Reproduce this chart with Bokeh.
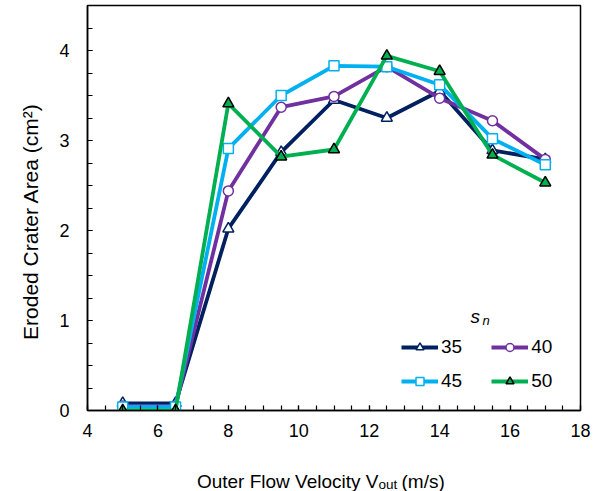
import math
from bokeh.plotting import figure
from bokeh.models import FixedTicker, Label, Legend, LegendItem, Range1d
from bokeh.layouts import row, column
from bokeh.embed import file_html
from bokeh.resources import INLINE

# ---- data ----
velocity = [5, 6.5, 8, 9.5, 11, 12.5, 14, 15.5, 17]
sn_35 = [0.08, 0.08, 2.02, 2.87, 3.45, 3.25, 3.55, 2.89, 2.79]
sn_40 = [0.05, 0.05, 2.44, 3.37, 3.49, 3.82, 3.47, 3.22, 2.79]
sn_45 = [0.04, 0.04, 2.91, 3.50, 3.83, 3.82, 3.62, 3.02, 2.73]
sn_50 = [0.00, 0.00, 3.41, 2.82, 2.90, 3.94, 3.77, 2.84, 2.53]
series_names = ["35", "40", "45", "50"]
x_ticks = [4, 6, 8, 10, 12, 14, 16, 18]
y_ticks = [0, 1, 2, 3, 4]

FONT = "Liberation Sans"
TXT = "#000000"

LEFT_W = 45
TOTAL_W, TOTAL_H = 593, 491
BOTTOM_H = 30
MAIN_W = TOTAL_W - LEFT_W
MAIN_H = TOTAL_H - BOTTOM_H

p = figure(width=MAIN_W, height=MAIN_H,
           x_range=Range1d(4, 18), y_range=Range1d(0, 4.5),
           output_backend="svg", toolbar_location=None,
           min_border_left=42, min_border_right=MAIN_W - 42 - 493,
           min_border_top=5, min_border_bottom=MAIN_H - 5 - 405)
p.xgrid.visible = False
p.ygrid.visible = False
p.outline_line_color = "black"
p.outline_line_width = 1.5
p.background_fill_color = "white"
p.border_fill_color = "white"

p.xaxis.ticker = FixedTicker(
    ticks=x_ticks,
    minor_ticks=[x_ticks[0] + 0.5 * i for i in range(int((x_ticks[-1] - x_ticks[0]) / 0.5) + 1)])
p.yaxis.ticker = FixedTicker(ticks=y_ticks, minor_ticks=[0.25 * i for i in range(18)])

for ax in (p.xaxis[0], p.yaxis[0]):
    ax.axis_line_color = "black"
    ax.axis_line_width = 1.5
    ax.major_tick_in = 5
    ax.major_tick_out = 0
    ax.minor_tick_in = 5
    ax.minor_tick_out = 0
    ax.major_tick_line_color = "black"
    ax.minor_tick_line_color = "black"
    ax.major_tick_line_width = 1.2
    ax.minor_tick_line_width = 1.2
    ax.major_label_text_font = FONT
    ax.major_label_text_font_size = "18px"
    ax.major_label_text_color = TXT
p.xaxis.major_label_standoff = 13
p.yaxis.major_label_standoff = 18

styles = [
    dict(color="#002060", marker="triangle", fill="white", outline="#002060", size=11),
    dict(color="#7030A0", marker="circle", fill="white", outline="#7030A0", size=10),
    dict(color="#00B0F0", marker="square", fill="white", outline="#00B0F0", size=10),
    dict(color="#00B050", marker="triangle", fill="#00B050", outline="black", size=11),
]
series = [sn_35, sn_40, sn_45, sn_50]
renderers = []
for ys, st in zip(series, styles):
    ln = p.line(velocity, ys, line_color=st["color"], line_width=3.8)
    mk = p.scatter(velocity, ys, marker=st["marker"], size=st["size"],
                   fill_color=st["fill"], line_color=st["outline"], line_width=1.5)
    renderers.append([ln, mk])

leg_common = dict(orientation="horizontal", glyph_width=37, glyph_height=20,
                  label_standoff=3, spacing=29, padding=0, margin=0,
                  border_line_alpha=0, background_fill_alpha=0,
                  label_text_font=FONT, label_text_font_size="19px",
                  label_text_color=TXT)
leg1 = Legend(items=[LegendItem(label=series_names[0], renderers=renderers[0]),
                     LegendItem(label=series_names[1], renderers=renderers[1])],
              location=(314, 52), **leg_common)
leg2 = Legend(items=[LegendItem(label=series_names[2], renderers=renderers[2]),
                     LegendItem(label=series_names[3], renderers=renderers[3])],
              location=(314, 18), **leg_common)
p.add_layout(leg1)
p.add_layout(leg2)

# legend title s_n
p.add_layout(Label(x=383, y=94, x_units="screen", y_units="screen", text="s",
                   text_font=FONT, text_font_size="19px", text_font_style="italic",
                   text_color=TXT, text_align="left", text_baseline="alphabetic"))
p.add_layout(Label(x=395, y=90, x_units="screen", y_units="screen", text="n",
                   text_font=FONT, text_font_size="13px", text_font_style="italic",
                   text_color=TXT, text_align="left", text_baseline="alphabetic"))


def blank(width, height):
    f = figure(width=width, height=height, x_range=Range1d(0, width), y_range=Range1d(0, height),
               output_backend="svg", toolbar_location=None,
               min_border=0, min_border_left=0, min_border_right=0,
               min_border_top=0, min_border_bottom=0)
    f.axis.visible = False
    f.xgrid.visible = False
    f.ygrid.visible = False
    f.outline_line_color = None
    f.background_fill_color = "white"
    f.border_fill_color = "white"
    return f


# x axis title (with subscript) in a strip below the plot
# (this strip's frame is aligned with the main plot frame)
bottom = blank(MAIN_W, BOTTOM_H)
bottom.add_layout(Label(x=291, y=10, x_units="screen", y_units="screen",
                        text="Outer Flow Velocity V", text_font=FONT, text_font_size="19px",
                        text_color=TXT, text_align="right", text_baseline="alphabetic"))
bottom.add_layout(Label(x=291, y=7, x_units="screen", y_units="screen",
                        text="out", text_font=FONT, text_font_size="13.5px",
                        text_color=TXT, text_align="left", text_baseline="alphabetic"))
bottom.add_layout(Label(x=314, y=10, x_units="screen", y_units="screen",
                        text="(m/s)", text_font=FONT, text_font_size="19px",
                        text_color=TXT, text_align="left", text_baseline="alphabetic"))

# y axis title in a strip left of the plot
left = blank(LEFT_W, TOTAL_H)
left.add_layout(Label(x=30, y=TOTAL_H - 221, x_units="screen", y_units="screen",
                      text="Eroded Crater Area (cm²)", angle=math.pi / 2,
                      text_font=FONT, text_font_size="21px", text_color=TXT,
                      text_align="center", text_baseline="middle"))

layout = row(left, column(p, bottom, spacing=0), spacing=0)
open("out.html", "w").write(file_html(layout, INLINE))
